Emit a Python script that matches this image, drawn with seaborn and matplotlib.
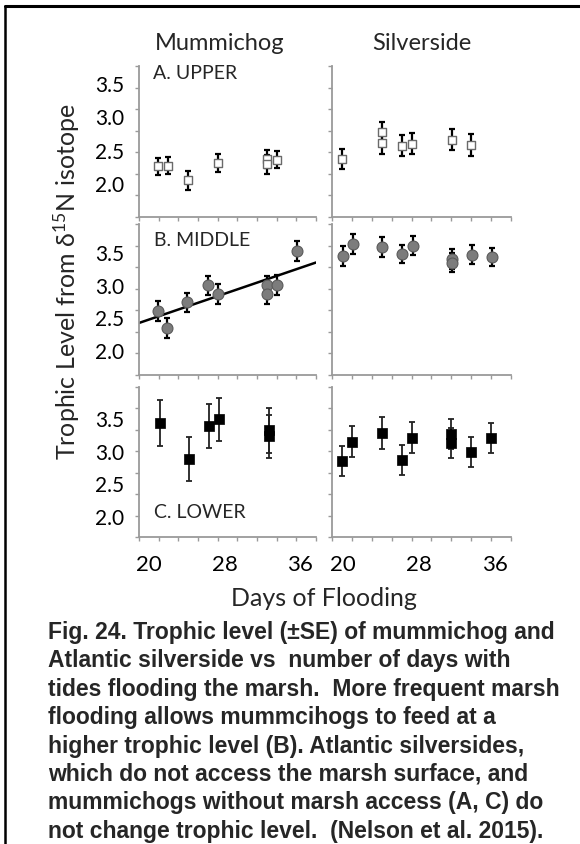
import numpy as np
import pandas as pd
import matplotlib
matplotlib.use("Agg")
import matplotlib.pyplot as plt
from matplotlib.ticker import FixedLocator
from matplotlib.lines import Line2D
import seaborn as sns

# ---------------- data ----------------
species = ["Mummichog", "Silverside"]
zones = ["A. UPPER", "B. MIDDLE", "C. LOWER"]
x_ticks = [20, 28, 36]
y_ticks = [2.0, 2.5, 3.0, 3.5]

mum_days_A = [20.9, 22.0, 24.1, 27.3, 32.5, 32.5, 33.6]
mum_A = [2.25, 2.26, 2.04, 2.30, 2.36, 2.28, 2.35]
mum_A_se = [0.13, 0.13, 0.14, 0.13, 0.14, 0.14, 0.13]

sil_days_A = [20.0, 24.1, 24.1, 26.3, 27.3, 31.5, 33.5]
sil_A = [2.36, 2.77, 2.60, 2.56, 2.59, 2.65, 2.57]
sil_A_se = [0.15, 0.15, 0.16, 0.16, 0.16, 0.16, 0.16]

mum_days_B = [20.9, 21.9, 24.0, 26.2, 27.3, 32.5, 32.5, 33.6, 35.7]
mum_B = [2.60, 2.34, 2.73, 2.99, 2.86, 2.99, 2.86, 3.00, 3.52]
mum_B_se = [0.15, 0.15, 0.15, 0.15, 0.15, 0.15, 0.15, 0.15, 0.15]

sil_days_B = [20.1, 21.1, 24.2, 26.3, 27.4, 31.5, 31.5, 33.6, 35.7]
sil_B = [3.44, 3.62, 3.58, 3.47, 3.60, 3.39, 3.34, 3.46, 3.43]
sil_B_se = [0.15, 0.15, 0.15, 0.14, 0.15, 0.15, 0.15, 0.15, 0.14]

mum_days_C = [21.1, 24.2, 26.3, 27.4, 32.7, 32.7]
mum_C = [3.42, 2.87, 3.38, 3.48, 3.31, 3.22]
mum_C_se = [0.35, 0.34, 0.34, 0.33, 0.35, 0.33]

sil_days_C = [19.9, 21.0, 24.1, 26.2, 27.3, 31.4, 31.4, 33.5, 35.6]
sil_C = [2.84, 3.14, 3.27, 2.85, 3.20, 3.25, 3.12, 2.98, 3.19]
sil_C_se = [0.23, 0.24, 0.24, 0.23, 0.24, 0.23, 0.23, 0.23, 0.23]

caption_lines = [
    "Fig. 24. Trophic level (\u00b1SE) of mummichog and",
    "Atlantic silverside vs  number of days with",
    "tides flooding the marsh.  More frequent marsh",
    "flooding allows mummcihogs to feed at a",
    "higher trophic level (B). Atlantic silversides,",
    "which do not access the marsh surface, and",
    "mummichogs without marsh access (A, C) do",
    "not change trophic level.  (Nelson et al. 2015).",
]

# ---------------- style ----------------
sns.set_theme(style="ticks")
plt.rcParams["font.family"] = ["Lato", "DejaVu Sans"]
plt.rcParams["mathtext.fontset"] = "custom"
plt.rcParams["mathtext.rm"] = "Lato"
plt.rcParams["mathtext.it"] = "Lato:italic"

W, H = 580, 845
fig = plt.figure(figsize=(W / 100, H / 100), dpi=100)
fig.patch.set_facecolor("white")


def px_box(left, top, right, bottom):
    return [left / W, 1 - bottom / H, (right - left) / W, (bottom - top) / H]


cols = [(139, 316), (332, 511)]
rows = [(67, 218), (225, 376), (388, 538)]
ylims = [(1.49, 3.755), (1.617, 3.93), (1.678, 3.975)]
xlim = (18.9, 37.7)

panel_data = [
    [(mum_days_A, mum_A, mum_A_se), (sil_days_A, sil_A, sil_A_se)],
    [(mum_days_B, mum_B, mum_B_se), (sil_days_B, sil_B, sil_B_se)],
    [(mum_days_C, mum_C, mum_C_se), (sil_days_C, sil_C, sil_C_se)],
]
styles = [
    dict(marker="s", s=32, color="white", edgecolor="#6a6a6a", lw=1.0,
         ecolor="black", elw=1.6, cap=2.5),
    dict(marker="o", s=62, color="#7c7c7c", edgecolor="#5a5a5a", lw=0.8,
         ecolor="black", elw=1.6, cap=2.5),
    dict(marker="s", s=45, color="black", edgecolor="black", lw=0.5,
         ecolor="#222222", elw=1.3, cap=2.5),
]
label_pos = [(0.08, 0.955), (0.085, 0.9), (0.085, 0.173)]

spine_col = "#9a9a9a"
for r, (top, bottom) in enumerate(rows):
    for c, (left, right) in enumerate(cols):
        ax = fig.add_axes(px_box(left, top, right, bottom))
        ax.set_facecolor("white")
        days, vals, se = panel_data[r][c]
        st = styles[r]
        ax.set_xlim(*xlim)
        ax.set_ylim(*ylims[r])
        if r == 1 and c == 0:
            sns.regplot(x=days, y=vals, ax=ax, scatter=False, ci=None,
                        truncate=False, line_kws=dict(color="black", lw=1.8, zorder=1))
        ax.errorbar(days, vals, yerr=se, fmt="none", ecolor=st["ecolor"],
                    elinewidth=st["elw"], capsize=st["cap"], capthick=st["elw"], zorder=2)
        df = pd.DataFrame({"day": days, "val": vals})
        sns.scatterplot(data=df, x="day", y="val", ax=ax, marker=st["marker"],
                        s=st["s"], color=st["color"], edgecolor=st["edgecolor"],
                        linewidth=st["lw"], zorder=3, legend=False)
        ax.set_xlim(*xlim)
        ax.set_ylim(*ylims[r])
        ax.set_xlabel("")
        ax.set_ylabel("")
        for s in ["top", "right"]:
            ax.spines[s].set_visible(False)
        for s in ["left", "bottom"]:
            ax.spines[s].set_color(spine_col)
            ax.spines[s].set_linewidth(1.3)
        ax.set_xticks(x_ticks)
        ax.set_yticks(y_ticks)
        ax.xaxis.set_minor_locator(FixedLocator(np.linspace(xlim[0], xlim[1], 10)))
        ax.yaxis.set_minor_locator(FixedLocator(np.linspace(ylims[r][0], ylims[r][1], 8)))
        ax.tick_params(which="major", length=0)
        ax.tick_params(which="minor", length=3, width=1, color=spine_col, direction="out")
        if c == 0:
            ax.tick_params(axis="y", which="major", labelsize=15, pad=10.5, labelcolor="black")
            ax.set_yticklabels([f"{v:.1f}" for v in y_ticks])
            lx, ly = label_pos[r]
            ax.text(lx, ly, zones[r], transform=ax.transAxes, fontsize=14,
                    ha="left", va="center")
        else:
            ax.set_yticklabels([])
        if r == 2:
            ax.tick_params(axis="x", which="major", labelsize=16, pad=12, labelcolor="black")
            ax.set_xticklabels([str(v) for v in x_ticks])
        else:
            ax.set_xticklabels([])

# column titles
fig.text(220 / W, 1 - 44 / H, species[0], fontsize=17, ha="center", va="center")
fig.text(422 / W, 1 - 44 / H, species[1], fontsize=17, ha="center", va="center")

# axis labels
fig.text(67 / W, 1 - 282 / H, r"Trophic Level from δ$^{15}$N isotope", fontsize=18,
         rotation=90, ha="center", va="center")
fig.text(324 / W, 1 - 598 / H, "Days of Flooding", fontsize=18, ha="center", va="center")

# caption
fig.text(48 / W, 1 - 621 / H, "\n".join(caption_lines), fontsize=16.5, fontweight="bold",
         family=["Liberation Sans", "DejaVu Sans"], ha="left", va="top", linespacing=1.3)

# frame lines (top and left)
fig.add_artist(Line2D([5 / W, 1.0], [1 - 7 / H, 1 - 7 / H], transform=fig.transFigure,
                      color="black", lw=2.2))
fig.add_artist(Line2D([5 / W, 5 / W], [1 - 7 / H, 0.0], transform=fig.transFigure,
                      color="black", lw=1.8))

fig.savefig("out.png", dpi=100, facecolor="white")
